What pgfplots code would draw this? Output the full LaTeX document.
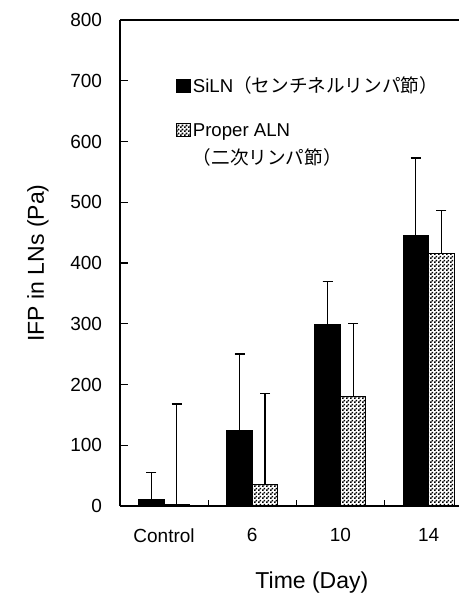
\documentclass[border=0pt]{standalone}
\usepackage{fontspec}
\setmainfont{Liberation Sans}
\newfontfamily\jp{Noto Sans CJK JP}
\usepackage{pgfplots}
\pgfplotsset{compat=1.18}
\usetikzlibrary{patterns}

% fine checkerboard for the second series
\pgfdeclarepatternformonly{finechecker}{\pgfqpoint{0bp}{0bp}}{\pgfqpoint{3.6bp}{3.6bp}}{\pgfqpoint{3.6bp}{3.6bp}}{%
  \pgfpathrectangle{\pgfqpoint{0bp}{0bp}}{\pgfqpoint{1.8bp}{1.8bp}}%
  \pgfpathrectangle{\pgfqpoint{1.8bp}{1.8bp}}{\pgfqpoint{1.8bp}{1.8bp}}%
  \pgfusepath{fill}}

% upward error bar with a flat cap, moved by the bar shift
\pgfplotsset{capbar/.style={error bars/draw error bar/.code 2 args={%
    \draw[black, line width=1.1bp, xshift=#1] ##1 -- ##2;
    \draw[black, line width=1.3bp, xshift=#1] ##2 +(-5bp,0) -- +(5bp,0);}}}

\begin{document}
\begin{tikzpicture}
\begin{axis}[
    scale only axis,
    width=339bp, height=486bp,
    xmin=-0.5, xmax=3.345,
    ymin=0, ymax=800,
    axis x line*=box, axis y line*=left,
    axis line style={line width=1.2bp},
    ybar=0pt, bar width=25.5bp,
    ytick={0,100,...,800}, ytick pos=left,
    xtick={0,1,2,3}, xticklabels={Control,6,10,14}, xtick pos=bottom,
    minor xtick={0.5,1.5,2.5},
    tick align=inside,
    major tick length=8bp, minor tick length=6bp,
    tick style={line width=1.1bp, black},
    major x tick style={draw=none},
    /pgf/number format/assume math mode=true,
    tick label style={font=\fontsize{19bp}{22bp}\selectfont},
    yticklabel style={xshift=-14.5bp},
    xticklabel style={yshift=-19bp},
    label style={font=\fontsize{23bp}{27bp}\selectfont},
    xlabel={Time (Day)},
    xlabel style={at={(axis description cs:0.566,0)}, anchor=base, yshift=-82bp},
    ylabel={IFP in LNs (Pa)},
    ylabel style={at={(axis description cs:-0.2242,0.5)}, anchor=base},
    legend image code/.code={\draw[#1] (0bp,0bp) rectangle (14bp,13bp);},
    legend cell align=left,
    legend style={at={(axis description cs:0.1555,0.893)}, anchor=north west,
        draw=none, fill=none, column sep=0bp, row sep=19bp,
        cells={anchor=base west},
        font=\fontsize{18.6bp}{28bp}\selectfont},
]
\coordinate (O) at (rel axis cs:0,0);

\addplot[fill=black, draw=black, line width=1bp, capbar=-12.75bp,
    error bars/.cd, y dir=plus, y explicit]
    coordinates {(0,10) +- (0,45) (1,125) +- (0,125) (2,298) +- (0,72) (3,445) +- (0,128)};
\addlegendentry{SiLN{\jp （センチネルリンパ節）}}

\addplot[pattern=finechecker, draw=black, line width=1bp, capbar=12.75bp,
    error bars/.cd, y dir=plus, y explicit]
    coordinates {(0,3) +- (0,165) (1,35) +- (0,150) (2,180) +- (0,120) (3,415) +- (0,71)};
\addlegendentry{\begin{tabular}[t]{@{}l@{}}Proper ALN\\{\jp （二次リンパ節）}\end{tabular}}
\end{axis}
\pgfresetboundingbox
\path (O) ++(-120bp,-87bp) rectangle ++(459bp,593bp);
\end{tikzpicture}
\end{document}
